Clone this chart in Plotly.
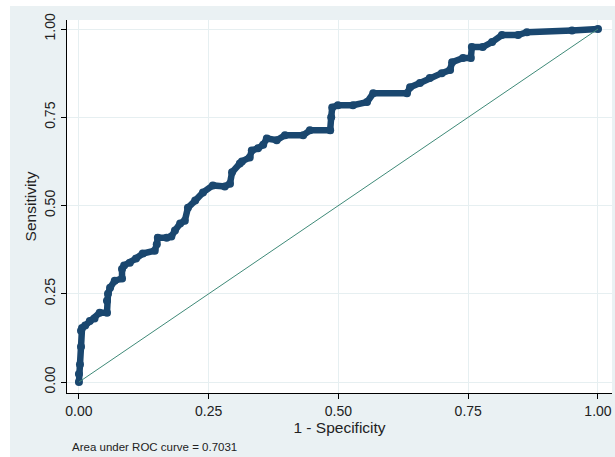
import plotly.graph_objects as go

# ROC curve points
fpr = [0.0, 0.0, 0.002, 0.004, 0.004, 0.006, 0.012, 0.021, 0.030, 0.040, 0.054, 0.054, 0.056, 0.060,
       0.069, 0.083, 0.083, 0.087, 0.098, 0.110, 0.123, 0.146, 0.150, 0.152, 0.169, 0.178, 0.185,
       0.195, 0.204, 0.210, 0.224, 0.239, 0.258, 0.281, 0.291, 0.295, 0.310, 0.314, 0.329, 0.333,
       0.345, 0.355, 0.362, 0.381, 0.397, 0.432, 0.445, 0.484, 0.486, 0.488, 0.499, 0.528, 0.555,
       0.567, 0.632, 0.638, 0.657, 0.676, 0.699, 0.715, 0.719, 0.740, 0.755, 0.757, 0.778, 0.796,
       0.815, 0.846, 0.863, 0.950, 1.0]
tpr = [0.0, 0.023, 0.050, 0.100, 0.145, 0.153, 0.160, 0.173, 0.180, 0.196, 0.196, 0.230, 0.250, 0.267,
       0.287, 0.293, 0.320, 0.330, 0.338, 0.350, 0.364, 0.372, 0.390, 0.409, 0.409, 0.412, 0.429,
       0.449, 0.457, 0.494, 0.514, 0.537, 0.557, 0.554, 0.562, 0.594, 0.619, 0.625, 0.636, 0.656,
       0.662, 0.672, 0.690, 0.685, 0.699, 0.699, 0.713, 0.713, 0.750, 0.778, 0.784, 0.784, 0.793,
       0.818, 0.818, 0.835, 0.847, 0.861, 0.875, 0.884, 0.906, 0.918, 0.918, 0.949, 0.949, 0.963,
       0.983, 0.983, 0.991, 0.996, 1.0]
ref_x = [0, 1]
ref_y = [0, 1]
ticks = [0, 0.25, 0.5, 0.75, 1.0]
tick_labels = ["0.00", "0.25", "0.50", "0.75", "1.00"]
auc_note = "Area under ROC curve = 0.7031"

NAVY = "#1a476f"
BG = "#eaf1f3"
GRID = "#e6eff1"
FONT = "Liberation Sans, Arial, sans-serif"

fig = go.Figure()
fig.add_trace(go.Scatter(x=fpr, y=tpr, mode="lines+markers",
                         line=dict(color=NAVY, width=6.5),
                         marker=dict(color=NAVY, size=8, symbol="circle"),
                         showlegend=False, hoverinfo="skip"))
fig.add_trace(go.Scatter(x=ref_x, y=ref_y, mode="lines",
                         line=dict(color="#3f8a78", width=1),
                         showlegend=False, hoverinfo="skip"))

W, H = 615, 457
L, R, T, B = 67, 3, 20, 64
pw, ph = W - L - R, H - T - B

fig.update_layout(
    width=W, height=H,
    margin=dict(l=L, r=R, t=T, b=B),
    paper_bgcolor=BG,
    plot_bgcolor="white",
    font=dict(family=FONT, color="#222222"),
    shapes=[
        # white strip on the left
        dict(type="rect", xref="paper", yref="paper", layer="below",
             x0=-L / pw - 0.01, x1=(10 - L) / pw, y0=-B / ph - 0.01, y1=(ph + T) / ph + 0.01,
             fillcolor="white", line=dict(width=0)),
        # white strip on the top
        dict(type="rect", xref="paper", yref="paper", layer="below",
             x0=-L / pw - 0.01, x1=(pw + R) / pw + 0.01, y0=(ph + T - 6) / ph, y1=(ph + T) / ph + 0.01,
             fillcolor="white", line=dict(width=0)),
    ],
    annotations=[dict(text=auc_note, xref="paper", yref="paper",
                      x=(70 - L) / pw, y=(T + ph - 447) / ph,
                      xanchor="left", yanchor="middle", showarrow=False,
                      font=dict(size=11.5, color="#222222", family=FONT))],
)
fig.update_xaxes(range=[-0.023, 1.027], tickvals=ticks, ticktext=tick_labels,
                 showgrid=True, gridcolor=GRID, gridwidth=1, zeroline=False,
                 showline=True, linecolor="black", linewidth=1, mirror=False,
                 ticks="outside", ticklen=5, tickcolor="black",
                 tickfont=dict(size=14, family=FONT, color="#222222"),
                 title=dict(text="1 - Specificity", font=dict(size=15.5, family=FONT, color="#222222"), standoff=2))
fig.update_yaxes(range=[-0.031, 1.0255], tickvals=ticks, ticktext=tick_labels,
                 showgrid=True, gridcolor=GRID, gridwidth=1, zeroline=False,
                 showline=True, linecolor="black", linewidth=1, mirror=False,
                 ticks="outside", ticklen=5, tickcolor="black", tickangle=-90,
                 tickfont=dict(size=14, family=FONT, color="#222222"),
                 title=dict(text="Sensitivity", font=dict(size=15.5, family=FONT, color="#222222"), standoff=1))

fig.write_html("out.html", config={"displayModeBar": False},
               post_script="document.body.style.margin='0';document.body.style.padding='0';")
